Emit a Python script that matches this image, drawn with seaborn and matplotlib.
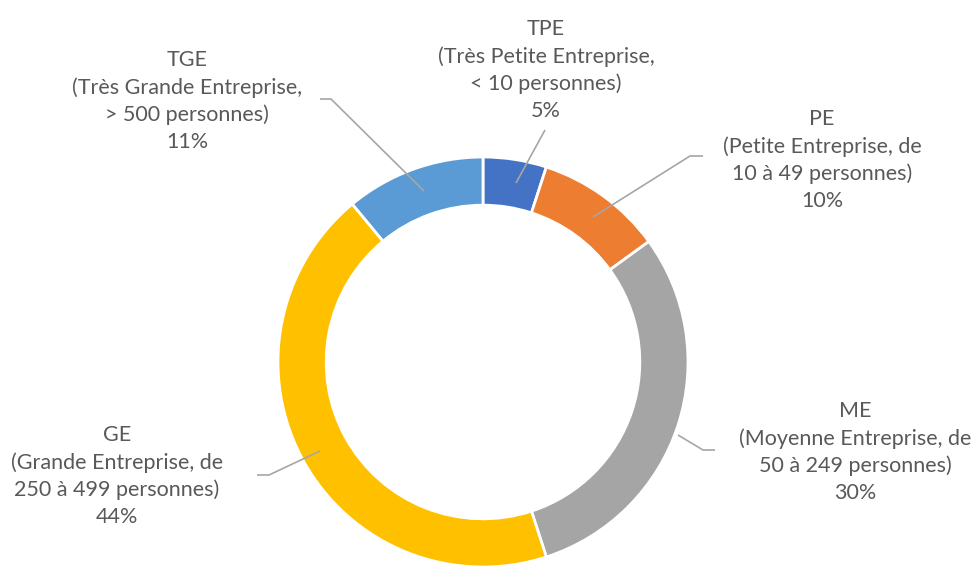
import matplotlib
matplotlib.use("Agg")
import matplotlib.pyplot as plt
import seaborn as sns

# Share of companies by size
categories = ["TPE", "PE", "ME", "GE", "TGE"]
descriptions = [
    "(Très Petite Entreprise,\n< 10 personnes)",
    "(Petite Entreprise, de\n10 à 49 personnes)",
    "(Moyenne Entreprise, de\n50 à 249 personnes)",
    "(Grande Entreprise, de\n250 à 499 personnes)",
    "(Très Grande Entreprise,\n> 500 personnes)",
]
shares = [5, 10, 30, 44, 11]
colors = ["#4472C4", "#ED7D31", "#A5A5A5", "#FFC000", "#5B9BD5"]

sns.set_theme(style="white")
plt.rcParams["font.family"] = ["Lato", "DejaVu Sans"]

fig = plt.figure(figsize=(9.79, 5.69), dpi=100)
ax = fig.add_axes([0, 0, 1, 1])

# pixel coordinates, y pointing down
cx, cy, r = 483, 362, 205
ax.pie(shares, colors=colors, startangle=-90, counterclock=True,
       center=(cx, cy), radius=r,
       wedgeprops=dict(width=r * 0.235, edgecolor="white", linewidth=2))
ax.set_xlim(0, 979)
ax.set_ylim(569, 0)
ax.set_aspect("auto")
ax.axis("off")

# label positions and leader lines (pixels)
label_pos = [(546, 70), (822, 160), (855, 452), (117, 476), (187, 101)]
leaders = [
    [(545, 130), (516, 183)],
    [(703, 156), (690, 156), (593, 217)],
    [(715, 450), (703, 450), (678, 435)],
    [(257, 475), (269, 475), (320, 451)],
    [(320, 99), (331, 99), (424, 191)],
]

for cat, desc, val, (tx, ty), pts in zip(categories, descriptions, shares,
                                          label_pos, leaders):
    ax.text(tx, ty, f"{cat}\n{desc}\n{val}%", ha="center", va="center",
            fontsize=15.5, color="#595959", linespacing=1.42)
    xs, ys = zip(*pts)
    ax.plot(xs, ys, color="#A6A6A6", lw=1.2, solid_capstyle="butt")

fig.savefig("out.png", dpi=100)
